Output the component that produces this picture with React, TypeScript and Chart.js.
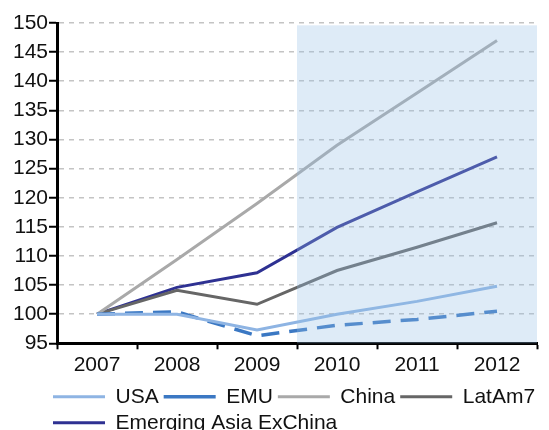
import React, { useEffect, useRef } from "react";
import { Chart, registerables } from "chart.js";

Chart.register(...registerables);

const categories = ["2007", "2008", "2009", "2010", "2011", "2012"];
const usa = [100, 100, 97.3, 100, 102.2, 104.8];
const emu = [100, 100.4, 96.3, 98.1, 99.1, 100.5];
const china = [100, 109.4, 119, 129, 138, 147];
const latam7 = [100, 104.1, 101.7, 107.5, 111.5, 115.7];
const emAsia = [100, 104.6, 107.1, 114.9, 121, 127];
const shadedCategories = ["2010", "2011", "2012"];
const shadeFrom = 95;
const shadeTo = 149.6;
const yMin = 95;
const yMax = 150;
const yStep = 5;

const LEGEND_LEFT = 40;

const shadePlugin = {
  id: "shade",
  afterLayout(chart: any) {
    const lg = chart.legend;
    if (lg) {
      const w = lg.right - lg.left;
      lg.left = LEGEND_LEFT;
      lg.right = LEGEND_LEFT + w;
    }
  },
  afterDatasetsDraw(chart: any) {
    const x = chart.scales.x;
    const y = chart.scales.y;
    const half = (x.getPixelForValue(1) - x.getPixelForValue(0)) / 2;
    const i0 = categories.indexOf(shadedCategories[0]);
    const i1 = categories.indexOf(shadedCategories[shadedCategories.length - 1]);
    const left = x.getPixelForValue(i0) - half;
    const right = x.getPixelForValue(i1) + half;
    const top = y.getPixelForValue(shadeTo);
    const bottom = y.getPixelForValue(shadeFrom);
    const ctx = chart.ctx;
    ctx.save();
    ctx.fillStyle = "rgba(148,190,229,0.31)";
    ctx.fillRect(left, top, right - left, bottom - top);
    ctx.restore();
  },
};

export default function App() {
  const ref = useRef<HTMLCanvasElement>(null);
  useEffect(() => {
    if (!ref.current) return;
    Chart.defaults.font.family = "'Liberation Sans', Arial, sans-serif";
    Chart.defaults.color = "#111";
    const chart = new Chart(ref.current, {
      type: "line",
      data: {
        labels: categories,
        datasets: [
          { label: "USA", data: usa, borderColor: "#8EB4E3", backgroundColor: "#8EB4E3", borderWidth: 3 },
          { label: "EMU", data: emu, borderColor: "#3B78C3", backgroundColor: "#3B78C3", borderWidth: 3.5, borderDash: [18, 10] },
          { label: "China", data: china, borderColor: "#A9A9A9", backgroundColor: "#A9A9A9", borderWidth: 3 },
          { label: "LatAm7", data: latam7, borderColor: "#666666", backgroundColor: "#666666", borderWidth: 3 },
          { label: "Emerging Asia ExChina", data: emAsia, borderColor: "#2E3192", backgroundColor: "#2E3192", borderWidth: 3 },
        ],
      },
      options: {
        animation: false,
        responsive: true,
        maintainAspectRatio: false,
        elements: { point: { radius: 0 }, line: { tension: 0 } },
        layout: { padding: { left: 5, right: 4, top: 15, bottom: -13.3 } },
        plugins: {
          tooltip: { enabled: false },
          legend: {
            position: "bottom",
            align: "start",
            labels: {
              usePointStyle: true,
              pointStyle: "line",
              pointStyleWidth: 52,
              padding: 5,
              font: { size: 21 },
              color: "#111",
            },
          },
        },
        scales: {
          x: {
            type: "category",
            offset: true,
            grid: {
              offset: true,
              drawOnChartArea: false,
              drawTicks: true,
              tickLength: 6,
              tickWidth: 2,
              tickColor: "#000",
              color: "#000",
            },
            border: { display: true, color: "#000", width: 3 },
            ticks: { font: { size: 21, lineHeight: 1 }, padding: 5.5, color: "#111", maxRotation: 0 },
          },
          y: {
            min: yMin,
            max: yMax,
            afterFit: (s: any) => {
              s.width = 44;
            },
            grid: {
              color: "#c4c4c4",
              lineWidth: 1.5,
              tickLength: 8,
              tickWidth: 2,
              tickColor: "#000",
              tickBorderDash: [],
            },
            border: { display: true, color: "#000", width: 3, dash: [5, 5] },
            ticks: { stepSize: yStep, font: { size: 21 }, padding: 1, color: "#111" },
          },
        },
      },
      plugins: [shadePlugin],
    });
    return () => chart.destroy();
  }, []);
  return (
    <div style={{ height: 422, position: "relative" }}>
      <canvas ref={ref} />
    </div>
  );
}
